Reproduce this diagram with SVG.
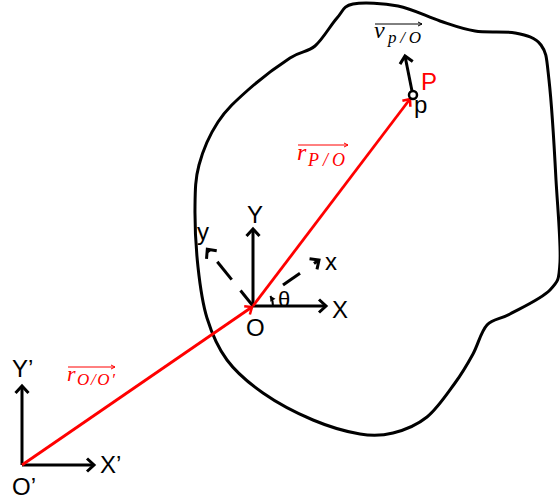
<svg xmlns="http://www.w3.org/2000/svg" width="560" height="501" viewBox="0 0 560 501">
<style>
.lbl{font-family:"Liberation Sans",Arial,sans-serif;font-size:24px;fill:#000}
.red{fill:#f00}
.math{font-family:"Liberation Serif","Times New Roman",serif;font-style:italic}
.ax{stroke:#000;stroke-width:3;fill:none}
.rv{stroke:#f00;stroke-width:2.8;fill:none}
</style>
<defs>
<marker id="ah" viewBox="-12 -10 16 20" refX="0" refY="0" markerWidth="16" markerHeight="20" markerUnits="userSpaceOnUse" orient="auto"><path d="M-7,-6.5 L0,0 L-7,6.5" fill="none" stroke="#000" stroke-width="3"/></marker>
<marker id="ahr" viewBox="-12 -10 16 20" refX="0" refY="0" markerWidth="16" markerHeight="20" markerUnits="userSpaceOnUse" orient="auto"><path d="M-6,-5 L0,0 L-6,5" fill="none" stroke="#f00" stroke-width="2.5"/></marker>
<marker id="smk" viewBox="-6 -4 8 8" refX="0" refY="0" markerWidth="8" markerHeight="8" markerUnits="userSpaceOnUse" orient="auto"><path d="M-4,-2 L0,0 L-4,2" fill="none" stroke="#000" stroke-width="1"/></marker>
<marker id="smr" viewBox="-6 -4 8 8" refX="0" refY="0" markerWidth="8" markerHeight="8" markerUnits="userSpaceOnUse" orient="auto"><path d="M-4,-2 L0,0 L-4,2" fill="none" stroke="#f00" stroke-width="1"/></marker>
<marker id="tri" viewBox="-6 -4 8 8" refX="0" refY="0" markerWidth="8" markerHeight="8" markerUnits="userSpaceOnUse" orient="auto"><path d="M-5,-3 L0,0 L-5,3 Z" fill="#000"/></marker>
</defs>

<g id="body">
<path class="ax" d="M353,4 C363.2,2 383.5,3.2 398,6 C412.5,8.8 427.2,16.8 440,21 C452.8,25.2 462.5,29 475,31 C487.5,33 504,30.7 515,33 C526,35.3 535.3,37.2 541,45 C546.7,52.8 546.5,57.5 549,80 C551.5,102.5 554.3,147.5 556,180 C557.8,210.3 561,243.7 560,262 C559,280.3 558.3,281.3 550,290 C541.7,298.7 520.5,308.2 510,314 C499.5,319.8 493.2,318.3 487,325 C480.8,331.7 478.3,344.3 473,354 C467.7,363.7 462.7,372.5 455,383 C447.3,393.5 437.3,408.7 427,417 C416.7,425.3 404.2,430.2 393,433 C381.8,435.8 373.3,436.2 360,434 C346.7,431.8 329.2,426.8 313,420 C296.8,413.2 277.3,403 263,393 C248.7,383 236.3,372.5 227,360 C217.7,347.5 211.8,333.5 207,318 C202.2,302.5 200,285.5 198,267 C196,248.5 194.8,224 195,207 C195.2,190 195.2,179.2 199,165 C202.8,150.8 209.8,134.5 218,122 C226.2,109.5 236,100.7 248,90 C260,79.3 278.8,65.3 290,58 C301.2,50.7 307.2,52.7 315,46 C322.8,39.3 330.7,25 337,18 C343.3,11 342.8,6 353,4 Z"/>
</g>

<g id="frame-origin">
<line class="ax" x1="22" y1="465" x2="22" y2="386" marker-end="url(#ah)"/>
<line class="ax" x1="22" y1="465" x2="94" y2="465" marker-end="url(#ah)"/>
<text class="lbl" x="12" y="377">Y’</text>
<text class="lbl" x="100" y="473">X’</text>
<text class="lbl" x="12" y="495">O’</text>
</g>

<g id="frame-O">
<line class="ax" x1="253" y1="306" x2="253" y2="229" marker-end="url(#ah)"/>
<line class="ax" x1="253" y1="306" x2="326" y2="306" marker-end="url(#ah)"/>
<text class="lbl" x="247" y="223">Y</text>
<text class="lbl" x="332" y="318">X</text>
<text class="lbl" x="246" y="336">O</text>
</g>

<g id="frame-body">
<line class="ax" x1="253" y1="306" x2="240.5" y2="290.5"/>
<line class="ax" x1="231.7" y1="279.6" x2="217.3" y2="261.7"/>
<line class="ax" x1="209.5" y1="252.1" x2="207.3" y2="249.3" marker-end="url(#ah)"/>
<line class="ax" x1="283" y1="285.1" x2="300" y2="273.2"/>
<line class="ax" x1="314" y1="263.5" x2="319" y2="260" marker-end="url(#ah)"/>
<text class="lbl" x="197" y="240">y</text>
<text class="lbl" x="325" y="270">x</text>
<path d="M273,306 A20,20 0 0 0 270.4,296" fill="none" stroke="#000" stroke-width="2" marker-end="url(#tri)"/>
<text class="lbl" x="278" y="307" style="font-size:22px">θ</text>
</g>

<g id="connectors">
<line class="rv" x1="22" y1="465" x2="252" y2="307" marker-end="url(#ahr)"/>
<line class="rv" x1="253" y1="306" x2="410" y2="99" marker-end="url(#ahr)"/>
<line class="ax" x1="412" y1="91" x2="405" y2="56" marker-end="url(#ah)"/>
</g>

<g id="point-P">
<circle cx="413" cy="95" r="4" fill="#fff" stroke="#000" stroke-width="2.5"/>
<text class="lbl red" x="421" y="90">P</text>
<text class="lbl" x="414" y="113">p</text>
</g>

<g id="label-v">
<line x1="375" y1="24" x2="422" y2="24" stroke="#000" stroke-width="1" marker-end="url(#smk)"/>
<text class="math" x="374" y="38" font-size="24" fill="#000">v</text>
<text class="math" x="388" y="43" font-size="17" fill="#000" textLength="33" lengthAdjust="spacing">p/O</text>
</g>

<g id="label-rPO">
<line x1="298" y1="145" x2="348" y2="145" stroke="#f00" stroke-width="1" marker-end="url(#smr)"/>
<text class="math" x="297" y="160" font-size="24" fill="#f00">r</text>
<text class="math" x="308" y="166" font-size="18" fill="#f00" textLength="37" lengthAdjust="spacing">P/O</text>
</g>

<g id="label-rOO">
<line x1="68" y1="367" x2="115" y2="367" stroke="#f00" stroke-width="1" marker-end="url(#smr)"/>
<text class="math" x="67" y="381" font-size="22" fill="#f00">r</text>
<text class="math" x="77" y="385" font-size="17" fill="#f00" textLength="38" lengthAdjust="spacing">O/O′</text>
</g>
</svg>
